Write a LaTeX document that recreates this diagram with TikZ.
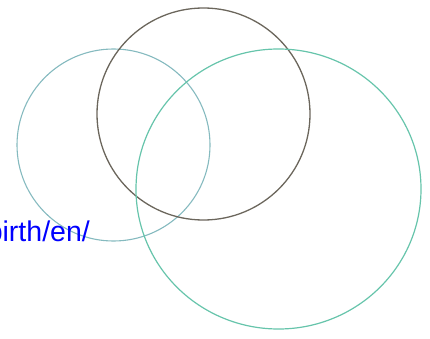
\documentclass[tikz,border=0pt]{standalone}
\usepackage{fontspec}
\setmainfont{Liberation Sans}
\definecolor{GreyTeal}{rgb}{0.52, 0.73, 0.75}
\definecolor{DarkTaupe}{rgb}{0.42, 0.40, 0.36}
\definecolor{SeaTeal}{rgb}{0.40, 0.77, 0.67}
\definecolor{LinkBlue}{rgb}{0, 0, 1}

\begin{document}
\begin{tikzpicture}[
  x=1pt, y=-1pt,
  lc/.style = {draw=GreyTeal, line width=1.1pt},
  tc/.style = {draw=DarkTaupe, line width=1.3pt},
  rc/.style = {draw=SeaTeal, line width=1.2pt},
  url/.style = {text=LinkBlue, font=\fontsize{28.5}{30}\selectfont,
                inner sep=0pt, anchor=base east},
]
\useasboundingbox (0,0) rectangle (430,339);
\clip (0,0) rectangle (430,339);

\draw[lc] (113.5,145) ellipse [x radius=96.5, y radius=96];
\draw[tc] (203.5,114) ellipse [x radius=106.5, y radius=106];
\draw[rc] (278.5,189) ellipse [x radius=142.5, y radius=140];

\node[url] (link) at (90,241) {birth/en/};
\end{tikzpicture}
\end{document}
